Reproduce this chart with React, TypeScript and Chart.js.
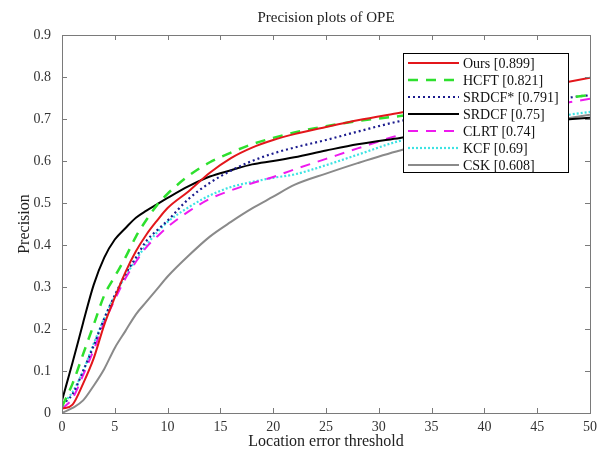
import React, { useEffect, useRef } from "react";
import { Chart, registerables } from "chart.js";

Chart.register(...registerables);

const thresholds = [0, 1, 2, 3, 4, 5, 6, 7, 8, 9, 10, 12, 14, 16, 18, 20, 22, 25, 28, 32, 36, 40, 45, 50];

const ours = [0.01, 0.02, 0.07, 0.13, 0.21, 0.275, 0.335, 0.385, 0.425, 0.458, 0.488, 0.528, 0.572, 0.607, 0.632, 0.65, 0.664, 0.681, 0.697, 0.715, 0.733, 0.752, 0.775, 0.798];
const hcft = [0.015, 0.07, 0.14, 0.21, 0.28, 0.325, 0.37, 0.42, 0.46, 0.495, 0.522, 0.565, 0.597, 0.62, 0.64, 0.655, 0.668, 0.683, 0.695, 0.707, 0.717, 0.728, 0.742, 0.757];
const srdcfStar = [0.02, 0.045, 0.1, 0.16, 0.225, 0.28, 0.33, 0.37, 0.41, 0.435, 0.458, 0.51, 0.548, 0.577, 0.6, 0.618, 0.632, 0.65, 0.67, 0.695, 0.713, 0.727, 0.742, 0.757];
const srdcf = [0.03, 0.12, 0.215, 0.305, 0.37, 0.413, 0.44, 0.465, 0.482, 0.497, 0.512, 0.54, 0.563, 0.578, 0.592, 0.6, 0.609, 0.625, 0.64, 0.655, 0.67, 0.682, 0.693, 0.703];
const clrt = [0.01, 0.035, 0.09, 0.15, 0.215, 0.27, 0.32, 0.36, 0.395, 0.42, 0.443, 0.48, 0.51, 0.53, 0.547, 0.562, 0.58, 0.605, 0.63, 0.662, 0.685, 0.705, 0.727, 0.748];
const kcf = [0.02, 0.05, 0.1, 0.165, 0.225, 0.28, 0.325, 0.365, 0.4, 0.43, 0.455, 0.49, 0.518, 0.538, 0.55, 0.56, 0.568, 0.59, 0.615, 0.648, 0.668, 0.684, 0.7, 0.717];
const csk = [0, 0.012, 0.03, 0.065, 0.105, 0.155, 0.195, 0.235, 0.265, 0.295, 0.325, 0.375, 0.42, 0.455, 0.487, 0.515, 0.543, 0.57, 0.595, 0.625, 0.648, 0.668, 0.69, 0.71];

const seriesLabels = ["Ours [0.899]", "HCFT [0.821]", "SRDCF* [0.791]", "SRDCF [0.75]", "CLRT [0.74]", "KCF [0.69]", "CSK [0.608]"];
const xTickLabels = ["0", "5", "10", "15", "20", "25", "30", "35", "40", "45", "50"];
const yTickLabels = ["0", "0.1", "0.2", "0.3", "0.4", "0.5", "0.6", "0.7", "0.8", "0.9"];

const chartTitle = "Precision plots of OPE";
const xTitle = "Location error threshold";
const yTitle = "Precision";

const SERIF = "'Liberation Serif', 'DejaVu Serif', serif";

const styles = [
  { color: "#e3161b", dash: [] as number[], width: 2 },
  { color: "#2ee02e", dash: [10, 8], width: 2.5 },
  { color: "#1c1c8e", dash: [2, 3], width: 2.2 },
  { color: "#000000", dash: [] as number[], width: 2 },
  { color: "#ee1aee", dash: [10, 8], width: 2 },
  { color: "#3de3e3", dash: [2, 2], width: 2.2 },
  { color: "#8a8a8a", dash: [] as number[], width: 2 },
];

const allSeries = [ours, hcft, srdcfStar, srdcf, clrt, kcf, csk];

const framePlugin = {
  id: "framePlugin",
  afterDraw(chart: any) {
    const { ctx, chartArea } = chart;
    const { left, right, top, bottom } = chartArea;
    const xs = chart.scales.x;
    const ys = chart.scales.y;
    ctx.save();
    ctx.strokeStyle = "#7a7a7a";
    ctx.lineWidth = 1;
    ctx.setLineDash([]);
    ctx.strokeRect(Math.round(left) + 0.5, Math.round(top) + 0.5, Math.round(right - left), Math.round(bottom - top));
    const tl = 5;
    ctx.beginPath();
    for (let v = 0; v <= 50; v += 5) {
      const px = Math.round(xs.getPixelForValue(v)) + 0.5;
      ctx.moveTo(px, bottom);
      ctx.lineTo(px, bottom - tl);
      ctx.moveTo(px, top);
      ctx.lineTo(px, top + tl);
    }
    for (let i = 0; i <= 9; i++) {
      const py = Math.round(ys.getPixelForValue(i / 10)) + 0.5;
      ctx.moveTo(left, py);
      ctx.lineTo(left + tl, py);
      ctx.moveTo(right, py);
      ctx.lineTo(right - tl, py);
    }
    ctx.stroke();

    ctx.fillStyle = "#222";
    ctx.textAlign = "center";
    ctx.textBaseline = "middle";
    ctx.font = `15px ${SERIF}`;
    ctx.fillText(chartTitle, (left + right) / 2, 18);
    ctx.font = `16px ${SERIF}`;
    ctx.fillText(xTitle, (left + right) / 2, 442);
    ctx.save();
    ctx.translate(25, (top + bottom) / 2);
    ctx.rotate(-Math.PI / 2);
    ctx.fillText(yTitle, 0, 0);
    ctx.restore();

    const bx = 403, by = 53, bw = 165, bh = 119;
    ctx.fillStyle = "#ffffff";
    ctx.fillRect(bx, by, bw, bh);
    ctx.strokeStyle = "#000";
    ctx.lineWidth = 1;
    ctx.strokeRect(bx + 0.5, by + 0.5, bw, bh);
    ctx.font = `14px ${SERIF}`;
    ctx.textAlign = "left";
    ctx.textBaseline = "middle";
    seriesLabels.forEach((lab, i) => {
      const yy = 63 + i * 17;
      const st = styles[i];
      ctx.strokeStyle = st.color;
      ctx.lineWidth = st.width;
      ctx.setLineDash(st.dash);
      ctx.beginPath();
      ctx.moveTo(408, yy);
      ctx.lineTo(459, yy);
      ctx.stroke();
      ctx.setLineDash([]);
      ctx.fillStyle = "#111";
      ctx.fillText(lab, 463, yy + 1);
    });
    ctx.restore();
  },
};

export default function App() {
  const ref = useRef<HTMLCanvasElement | null>(null);
  useEffect(() => {
    document.body.style.margin = "0";
    const canvas = ref.current;
    if (!canvas) return;
    const datasets = allSeries.map((s, i) => ({
      label: seriesLabels[i],
      data: s.map((v, j) => ({ x: thresholds[j], y: v })),
      borderColor: styles[i].color,
      borderWidth: styles[i].width,
      borderDash: styles[i].dash,
      pointRadius: 0,
      fill: false,
      cubicInterpolationMode: "monotone" as const,
      order: i,
    }));
    const chart = new Chart(canvas, {
      type: "line",
      data: { datasets },
      options: {
        responsive: false,
        animation: false,
        layout: { padding: { top: 35, right: 9, left: 0, bottom: 0 } },
        plugins: { legend: { display: false }, title: { display: false }, tooltip: { enabled: false } },
        scales: {
          x: {
            type: "linear",
            min: 0,
            max: 50,
            afterFit: (s: any) => { s.height = 42; },
            grid: { display: false, drawTicks: false },
            border: { display: false },
            ticks: {
              stepSize: 5,
              padding: 6,
              color: "#333",
              font: { family: SERIF, size: 14 },
              maxRotation: 0,
              callback: (v: any) => xTickLabels[Math.round(Number(v) / 5)] ?? "",
            },
          },
          y: {
            type: "linear",
            min: 0,
            max: 0.9,
            afterFit: (s: any) => { s.width = 62; },
            grid: { display: false, drawTicks: false },
            border: { display: false },
            ticks: {
              stepSize: 0.1,
              padding: 11,
              color: "#333",
              font: { family: SERIF, size: 14 },
              callback: (v: any) => yTickLabels[Math.round(Number(v) * 10)] ?? "",
            },
          },
        },
      },
      plugins: [framePlugin],
    });
    return () => chart.destroy();
  }, []);
  return (
    <div style={{ width: 603, height: 455, background: "#fff" }}>
      <canvas ref={ref} width={603} height={455} style={{ display: "block" }} />
    </div>
  );
}
